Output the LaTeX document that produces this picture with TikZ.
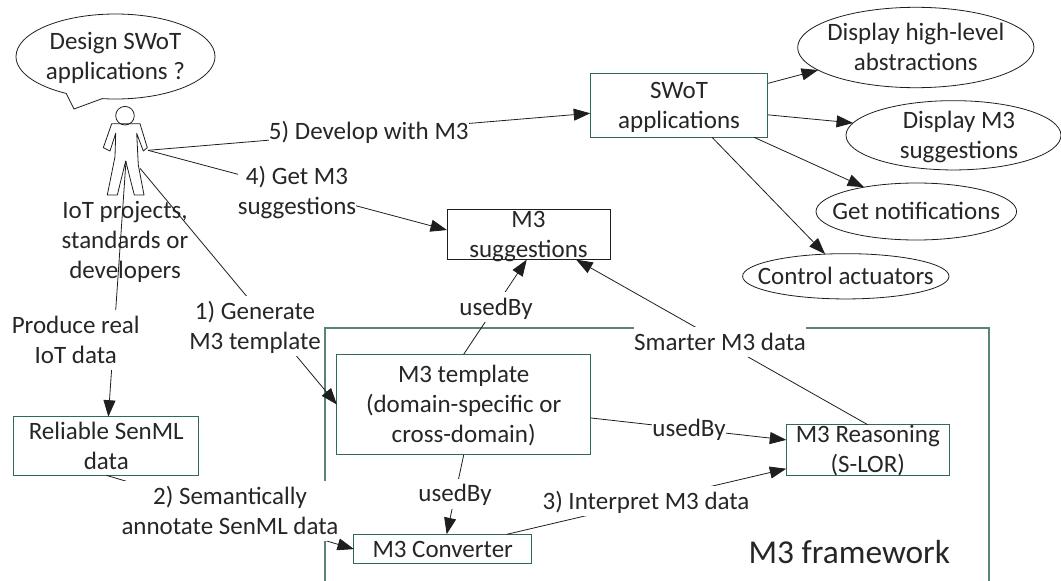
\documentclass[tikz,border=0pt]{standalone}
\usepackage{fontspec}
\setmainfont{Carlito}
\usetikzlibrary{arrows.meta,shapes.geometric,shapes.callouts}
\definecolor{boxgreen}{HTML}{2F6B4F}
\definecolor{frameGreen}{HTML}{5A8570}
\definecolor{inkc}{HTML}{1E1E1E}
\definecolor{txtc}{HTML}{262626}
\newcommand{\ts}{\rule[-7pt]{0pt}{30pt}}
\tikzset{
  txt/.style={font=\fontsize{25}{30}\selectfont,text=txtc,align=center,inner sep=0pt,outer sep=0pt},
  wlabel/.style={txt,fill=white},
  greenbox/.style={txt,draw=boxgreen,line width=1pt,fill=white,inner ysep=-10pt},
  blackbox/.style={txt,draw=inkc,line width=.8pt,fill=white,inner ysep=-10pt},
  oval/.style={txt,ellipse,draw=inkc,line width=.8pt,fill=white,inner sep=-40pt},
  conn/.style={draw=inkc,line width=.8pt},
  arr/.style={conn,-{Triangle[length=16.5pt,width=12pt]}},
}
\begin{document}
\begin{tikzpicture}[x=1pt,y=-1pt]
\useasboundingbox (0,0) rectangle (1061,581);
% framework
\coordinate (fbl) at (325,581);
\coordinate (ftl) at (325,328);
\coordinate (ftr) at (989,328);
\coordinate (fbr) at (989,581);
\draw[frameGreen,line width=1.3pt] (fbl) -- (ftl) -- (ftr) -- (fbr);
% boxes
\node[greenbox,minimum width=177.7pt,minimum height=63.6pt] (swot) at (679.1,105.5) {\ts SWoT\\applications\ts};
\node[blackbox,minimum width=163pt,minimum height=50.7pt] (sugg) at (528.5,234.3) {\ts M3\\suggestions\ts};
\node[greenbox,minimum width=253.5pt,minimum height=100.7pt] (tmpl) at (463.7,404.6) {\ts M3 template\\(domain-specific or\\cross-domain)\ts};
\node[greenbox,minimum width=177.5pt,minimum height=29.7pt] (conv) at (442.7,549.1) {\ts M3 Converter\ts};
\node[greenbox,minimum width=163pt,minimum height=50.3pt] (reas) at (867.8,449.9) {\ts M3 Reasoning\\(S-LOR)\ts};
\node[greenbox,minimum width=184.7pt,minimum height=58.6pt] (reli) at (106.3,446) {\ts Reliable SenML\\data\ts};
% ovals
\node[oval,minimum width=236.3pt,minimum height=80.4pt] (dishigh) at (915.8,47.5) {\ts Display high-level\\abstractions\ts};
\node[oval,minimum width=215pt,minimum height=69.3pt] (dism) at (953.5,135.3) {\ts\hspace*{11pt}Display M3\\\hspace*{11pt}suggestions\ts};
\node[oval,minimum width=200.6pt,minimum height=57pt] (getn) at (916.3,211.5) {\ts Get notifications\ts};
\node[oval,minimum width=206.4pt,minimum height=45.3pt] (ctrl) at (845.8,276.3) {\ts Control actuators\ts};
% speech bubble
\node[txt,ellipse callout,draw=inkc,line width=.8pt,fill=white,inner sep=-40pt,minimum width=199pt,minimum height=85pt,callout absolute pointer={(74,109)},callout pointer arc=22] (bubble) at (115.5,56.5) {\ts Design SWoT\\applications ?\ts};
% person
\node[circle,draw=inkc,line width=.8pt,minimum size=18.6pt,inner sep=0pt] (head) at (125,115.7) {};
\draw[inkc,line width=.8pt,line join=round] (111.7,123.7) -- (140,123.7) -- (147.3,147.7) -- (143.3,151) -- (136.7,133.3) -- (138.3,165) -- (144,195) -- (134.3,195) -- (125.7,161) -- (117.3,195) -- (107.3,195) -- (115,156.7) -- (115.7,133.3) -- (110,151) -- (103.3,147.7) -- cycle;
\coordinate (hand) at (148,150.3);
\coordinate (crotch) at (126,161);
\coordinate (hip) at (140,168.3);
% IoT label lies under the lines
\node[txt] (iot) at (125,240.3) {\ts IoT projects,\\standards or\\developers\ts};
% connectors
\draw[arr] (hand) -- (swot.185.1);
\draw[arr] (hand) -- (sugg.177.5);
\draw[arr] (crotch) -- (reli.86.2);
\draw[arr] (hip) -- (tmpl.west);
\draw[arr] (reli.south) -- (conv.west);
\draw[arr] (tmpl.south) -- (conv.75.1);
\draw[arr] (tmpl.north) -- (sugg.266.7);
\draw[arr] (tmpl.-6.1) -- (reas.173);
\draw[arr] (conv.13.1) -- (reas.193.4);
\draw[arr] (reas.north) -- (sugg.-28.6);
\draw[arr] (swot.14) -- (dishigh.193.3);
\draw[arr] (swot.-6.2) -- (dism.173.8);
\draw[arr] (swot.-23.9) -- (getn.155.7);
\draw[arr] (swot.-44.7) -- (ctrl.133.7);
% labels
\node[wlabel] (l5) at (368.8,131.3) {\ts 5) Develop with M3\ts};
\node[wlabel] (l4) at (297,191.3) {\ts 4) Get M3\\suggestions\ts};
\node[wlabel] (lprod) at (75.7,340.3) {\ts Produce real\\IoT data\ts};
\node[wlabel] (l1) at (255,326.3) {\ts 1) Generate\\M3 template\ts};
\node[wlabel] (l2) at (230,511.3) {\ts 2) Semantically\\annotate SenML data\ts};
\node[wlabel] (lu1) at (496,307) {\ts usedBy\ts};
\node[wlabel] (lu2) at (455,493.7) {\ts usedBy\ts};
\node[wlabel] (lu3) at (689,428.7) {\ts usedBy\ts};
\node[wlabel] (l3) at (646,501) {\ts 3) Interpret M3 data\ts};
\node[wlabel] (lsm) at (720,342) {\ts Smarter M3 data\ts};
\node[txt,font=\fontsize{33.4}{38}\selectfont] (lfw) at (849.3,555.3) {\ts M3 framework\ts};
\end{tikzpicture}
\end{document}
